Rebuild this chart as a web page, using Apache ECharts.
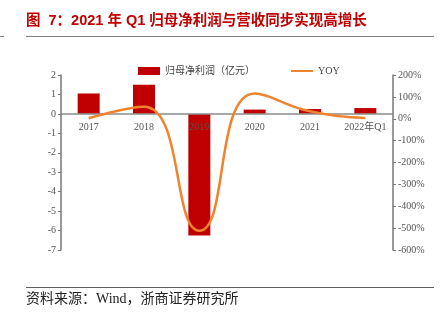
<!DOCTYPE html>
<html>
<head>
<meta charset="utf-8">
<script src="https://cdn.jsdelivr.net/npm/echarts@6/dist/echarts.min.js"></script>
<style>
  html, body { margin: 0; padding: 0; background: #fff; }
  #chart { width: 444px; height: 323px; }
</style>
</head>
<body>
<div id="chart"></div>
<script>
// Categories and series values
const categories = ['2017', '2018', '2019', '2020', '2021', '2022年Q1'];
const netProfit = [1.05, 1.5, -6.25, 0.22, 0.25, 0.3];   // 归母净利润（亿元）
const yoy = [2, 55, -512, 116, 34, 3];                    // YOY (%)

const leftTicks = { min: -7, max: 2, interval: 1 };
const rightTicks = { min: -600, max: 200, interval: 100 };

const serif = '"Liberation Serif", "Times New Roman", "Noto Sans CJK SC", serif';
const cjk = '"Liberation Serif", "Noto Sans CJK SC", sans-serif';

const chart = echarts.init(document.getElementById('chart'), null, { renderer: 'canvas' });

chart.setOption({
  animation: false,
  backgroundColor: '#ffffff',
  graphic: [
    {
      type: 'text', left: 26, top: 14,
      style: {
        text: '图  7：2021 年 Q1 归母净利润与营收同步实现高增长',
        font: 'bold 14.5px "Liberation Sans", "Noto Sans CJK SC", sans-serif',
        fill: '#C00000'
      }
    },
    { type: 'line', shape: { x1: 26, y1: 36.5, x2: 434, y2: 36.5 }, style: { stroke: '#808080', lineWidth: 1.2 } },
    { type: 'line', shape: { x1: 0, y1: 36.5, x2: 4, y2: 36.5 }, style: { stroke: '#808080', lineWidth: 1 } },
    { type: 'line', shape: { x1: 26, y1: 287.5, x2: 434, y2: 287.5 }, style: { stroke: '#606060', lineWidth: 1 } },
    {
      type: 'text', left: 26, top: 292,
      style: {
        text: '资料来源：Wind，浙商证券研究所',
        font: '14px ' + cjk,
        fill: '#222222'
      }
    }
  ],
  legend: {
    top: 61,
    left: 133,
    itemGap: 36,
    itemWidth: 22,
    itemHeight: 8,
    textStyle: { fontSize: 10, fontFamily: cjk, color: '#444' },
    data: [
      { name: '归母净利润（亿元）', icon: 'rect' },
      { name: 'YOY', icon: 'path://M0,4 L22,4 L22,6 L0,6 Z' }
    ]
  },
  grid: { left: 61, right: 51, top: 75, bottom: 73 },
  xAxis: {
    type: 'category',
    data: categories,
    z: 3,
    axisLine: { onZero: false, lineStyle: { color: '#8c8c8c', width: 1.5 } },
    axisTick: { show: false },
    axisLabel: { fontSize: 10, fontFamily: serif, color: '#555', margin: 8 }
  },
  yAxis: [
    {
      type: 'value',
      min: leftTicks.min, max: leftTicks.max, interval: leftTicks.interval,
      splitLine: { show: false },
      axisLine: { show: true, onZero: false, lineStyle: { color: '#777', width: 1.5 } },
      axisTick: { show: true, length: 3, lineStyle: { color: '#777' } },
      axisLabel: { fontSize: 10, fontFamily: serif, color: '#555', margin: 5 }
    },
    {
      type: 'value',
      min: rightTicks.min, max: rightTicks.max, interval: rightTicks.interval,
      splitLine: { show: false },
      axisLine: { show: true, onZero: false, lineStyle: { color: '#777', width: 1.5 } },
      axisTick: { show: true, length: 3, lineStyle: { color: '#777' } },
      axisLabel: { fontSize: 10, fontFamily: serif, color: '#555', margin: 5, formatter: '{value}%' }
    }
  ],
  series: [
    {
      name: '归母净利润（亿元）',
      type: 'bar',
      yAxisIndex: 0,
      data: netProfit,
      barWidth: 22,
      itemStyle: { color: '#C00000' }
    },
    {
      name: 'YOY',
      type: 'line',
      yAxisIndex: 1,
      z: 4,
      data: yoy,
      smooth: 0.5,
      symbol: 'none',
      lineStyle: { color: '#F0832F', width: 2.5 },
      itemStyle: { color: '#F0832F' }
    }
  ]
});

// Lift the category axis (line and labels) up to the zero level of the left axis
const zeroY = chart.convertToPixel({ yAxisIndex: 0 }, 0);
const bottomY = chart.convertToPixel({ yAxisIndex: 0 }, leftTicks.min);
chart.setOption({ xAxis: { offset: -(bottomY - zeroY) } });
</script>
</body>
</html>
